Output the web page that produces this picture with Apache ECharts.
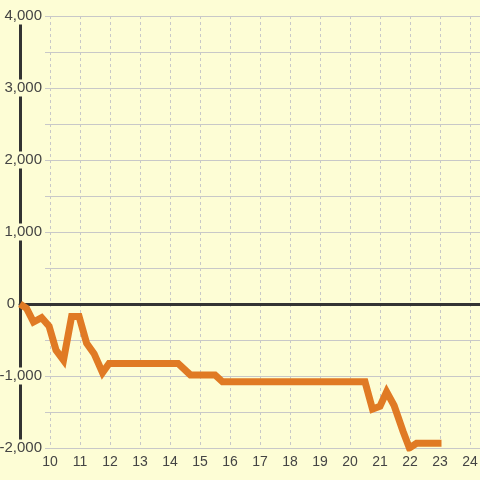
<!DOCTYPE html>
<html>
<head>
<meta charset="utf-8">
<script src="https://cdn.jsdelivr.net/npm/echarts@6/dist/echarts.min.js"></script>
<style>
html,body{margin:0;padding:0;background:#fdfdd5;}
#chart{width:480px;height:480px;}
</style>
</head>
<body>
<div id="chart"></div>
<script>
var hours = [9, 9.22, 9.45, 9.72, 9.97, 10.2, 10.45, 10.72, 10.97, 11.22, 11.47, 11.75, 11.97, 14.27, 14.68, 15.5, 15.75, 20.5, 20.75, 21.0, 21.22, 21.47, 21.77, 21.98, 22.22, 23.05];
var values = [0, -60, -250, -190, -310, -640, -780, -175, -175, -545, -690, -955, -825, -825, -985, -985, -1080, -1080, -1460, -1420, -1220, -1410, -1770, -2000, -1935, -1935];
var xTickLabels = [10, 11, 12, 13, 14, 15, 16, 17, 18, 19, 20, 21, 22, 23, 24];
var yTickLabels = [-2000, -1000, 0, 1000, 2000, 3000, 4000];

var points = hours.map(function (h, i) { return [h, values[i]]; });
var bg = '#fdfdd5';
var fontFam = '"Liberation Sans", Arial, sans-serif';
var xMin = 9, xMax = 9 + 460 / 30;

function fmt(v) {
  var s = Math.abs(v).toString().replace(/\B(?=(\d{3})+(?!\d))/g, ',');
  return (v < 0 ? '-' : '') + s;
}

var chart = echarts.init(document.getElementById('chart'));
chart.setOption({
  backgroundColor: bg,
  animation: false,
  grid: [
    { left: 20, right: 0, top: 16, bottom: 32, containLabel: false, outerBoundsMode: 'none' },
    { left: 45, right: 0, top: 16, bottom: 32, containLabel: false, outerBoundsMode: 'none' }
  ],
  xAxis: [
    {
      gridIndex: 0, type: 'value', min: xMin, max: xMax, interval: 1,
      axisLine: { show: false }, axisTick: { show: false },
      axisLabel: {
        showMinLabel: false, showMaxLabel: false, margin: 7,
        color: '#444', fontSize: 14, fontFamily: fontFam,
        formatter: function (v) { return xTickLabels.indexOf(v) >= 0 ? String(v) : ''; }
      },
      splitLine: { show: true, lineStyle: { color: '#c8c8c8', type: [3, 3], width: 1 } }
    },
    {
      gridIndex: 1, type: 'value', min: xMin, max: xMax, show: false
    },
    {
      gridIndex: 0, type: 'value', min: xMin, max: xMax, position: 'bottom',
      axisLine: { show: true, onZero: true, onZeroAxisIndex: 0, lineStyle: { color: '#333', width: 3 } },
      axisTick: { show: false }, axisLabel: { show: false }, splitLine: { show: false }
    }
  ],
  yAxis: [
    {
      gridIndex: 0, type: 'value', min: -2000, max: 4000, interval: 1000,
      axisLine: { show: true, lineStyle: { color: '#333', width: 3 } },
      axisTick: { show: false },
      splitLine: { show: false },
      axisLabel: {
        margin: -23, color: '#444', fontSize: 15, fontFamily: fontFam,
        formatter: function (v) {
          if (yTickLabels.indexOf(v) < 0) return '';
          if (v === 0) return '{t|0}{sp|}';
          return '{t|' + fmt(v) + '}';
        },
        rich: {
          t: { color: '#444', fontSize: 15, fontFamily: fontFam, backgroundColor: bg, padding: [1, 1, 1, 1] },
          sp: { width: 27 }
        }
      }
    },
    {
      gridIndex: 1, type: 'value', min: -2000, max: 4000, interval: 500,
      axisLine: { show: false }, axisTick: { show: false }, axisLabel: { show: false },
      splitLine: { show: true, lineStyle: { color: '#c8c8c8', width: 1 } }
    }
  ],
  series: [
    {
      type: 'line',
      xAxisIndex: 0, yAxisIndex: 0,
      data: points,
      showSymbol: false, symbol: 'none',
      lineStyle: { color: '#e07a24', width: 7, cap: 'butt', join: 'miter' },
      z: 5
    }
  ]
});
</script>
</body>
</html>
